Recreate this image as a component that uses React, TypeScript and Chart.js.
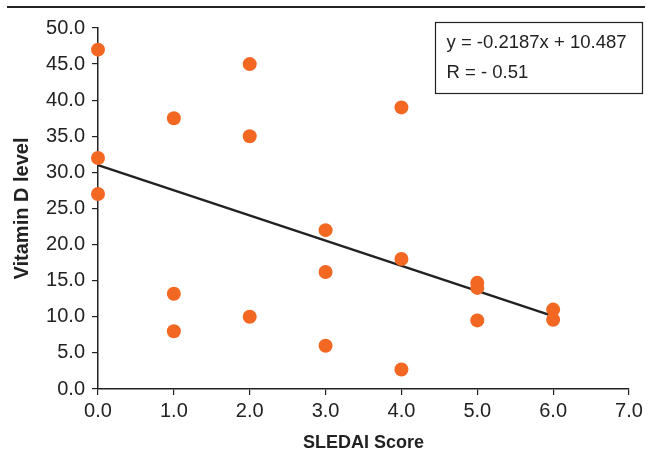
import React, { useEffect, useRef } from "react";
import { Chart, registerables } from "chart.js";

Chart.register(...registerables);

const sledaiScores = [0, 0, 0, 1, 1, 1, 2, 2, 2, 3, 3, 3, 4, 4, 4, 5, 5, 5, 6, 6];
const vitaminD = [47, 32, 27, 37.5, 13.2, 8, 45, 35, 10, 22, 16.2, 6, 39, 18, 2.7, 14.7, 14, 9.5, 11, 9.6];
const trendX = [0, 6];
const trendY = [31.0, 10.1];
const equationLines = ["y = -0.2187x + 10.487", "R = - 0.51"];
const xTitle = "SLEDAI Score";
const yTitle = "Vitamin D level";

const FONT = "'Liberation Sans', Arial, Helvetica, sans-serif";
const INK = "#222222";
const ORANGE = "#F26722";

const overlayPlugin = {
  id: "overlay",
  afterDraw(chart: any) {
    const ctx = chart.ctx;
    ctx.save();
    // top rule
    ctx.strokeStyle = INK;
    ctx.lineWidth = 2;
    ctx.beginPath();
    ctx.moveTo(7, 7);
    ctx.lineTo(645, 7);
    ctx.stroke();
    // equation box
    const bx = 435.5, by = 22.5, bw = 207, bh = 71;
    ctx.fillStyle = "#ffffff";
    ctx.fillRect(bx, by, bw, bh);
    ctx.lineWidth = 1.2;
    ctx.strokeRect(bx, by, bw, bh);
    ctx.fillStyle = INK;
    ctx.font = `18.5px ${FONT}`;
    ctx.textAlign = "left";
    ctx.textBaseline = "middle";
    ctx.fillText(equationLines[0], bx + 11, by + 20);
    ctx.fillText(equationLines[1], bx + 11, by + 50);
    ctx.restore();
  },
};

export default function App() {
  const ref = useRef<HTMLCanvasElement>(null);
  useEffect(() => {
    if (!ref.current) return;
    const chart = new Chart(ref.current, {
      type: "scatter",
      data: {
        datasets: [
          {
            type: "line",
            data: trendX.map((x, i) => ({ x, y: trendY[i] })),
            borderColor: INK,
            borderWidth: 2.5,
            pointRadius: 0,
            fill: false,
            clip: false,
            order: 2,
          } as any,
          {
            type: "scatter",
            data: sledaiScores.map((x, i) => ({ x, y: vitaminD[i] })),
            backgroundColor: ORANGE,
            borderColor: ORANGE,
            pointRadius: 7,
            pointBorderWidth: 0,
            clip: false,
            order: 1,
          } as any,
        ],
      },
      options: {
        responsive: false,
        animation: false,
        layout: { padding: { left: 0, right: 23, top: 28, bottom: 0 } },
        plugins: { legend: { display: false }, tooltip: { enabled: false } },
        scales: {
          x: {
            type: "linear",
            min: 0,
            max: 7,
            afterFit: (s: any) => { s.height = 63; },
            ticks: {
              stepSize: 1,
              padding: 4,
              color: INK,
              font: { family: FONT, size: 20 },
              callback: (v: any) => Number(v).toFixed(1),
            },
            grid: { drawOnChartArea: false, drawTicks: true, tickLength: 6, color: INK, lineWidth: 1.2 },
            border: { display: true, color: INK, width: 1.5 },
            title: {
              display: true,
              text: xTitle,
              color: INK,
              font: { family: FONT, size: 18, weight: "bold", lineHeight: 1.0 },
              padding: { top: 0, bottom: 0 },
            },
          },
          y: {
            type: "linear",
            min: 0,
            max: 50,
            afterFit: (s: any) => { s.width = 98; },
            ticks: {
              stepSize: 5,
              padding: 7,
              color: INK,
              font: { family: FONT, size: 20 },
              callback: (v: any) => Number(v).toFixed(1),
            },
            grid: { drawOnChartArea: false, drawTicks: true, tickLength: 6, color: INK, lineWidth: 1.2 },
            border: { display: true, color: INK, width: 1.5 },
            title: {
              display: true,
              text: yTitle,
              color: INK,
              font: { family: FONT, size: 20, weight: "bold", lineHeight: 1.2 },
              padding: { top: 10, bottom: 0 },
            },
          },
        },
      },
      plugins: [overlayPlugin],
    });
    return () => chart.destroy();
  }, []);
  return (
    <div style={{ position: "absolute", left: 0, top: 0, width: 652, height: 452, background: "#fff" }}>
      <canvas ref={ref} width={652} height={452} style={{ display: "block" }} />
    </div>
  );
}
